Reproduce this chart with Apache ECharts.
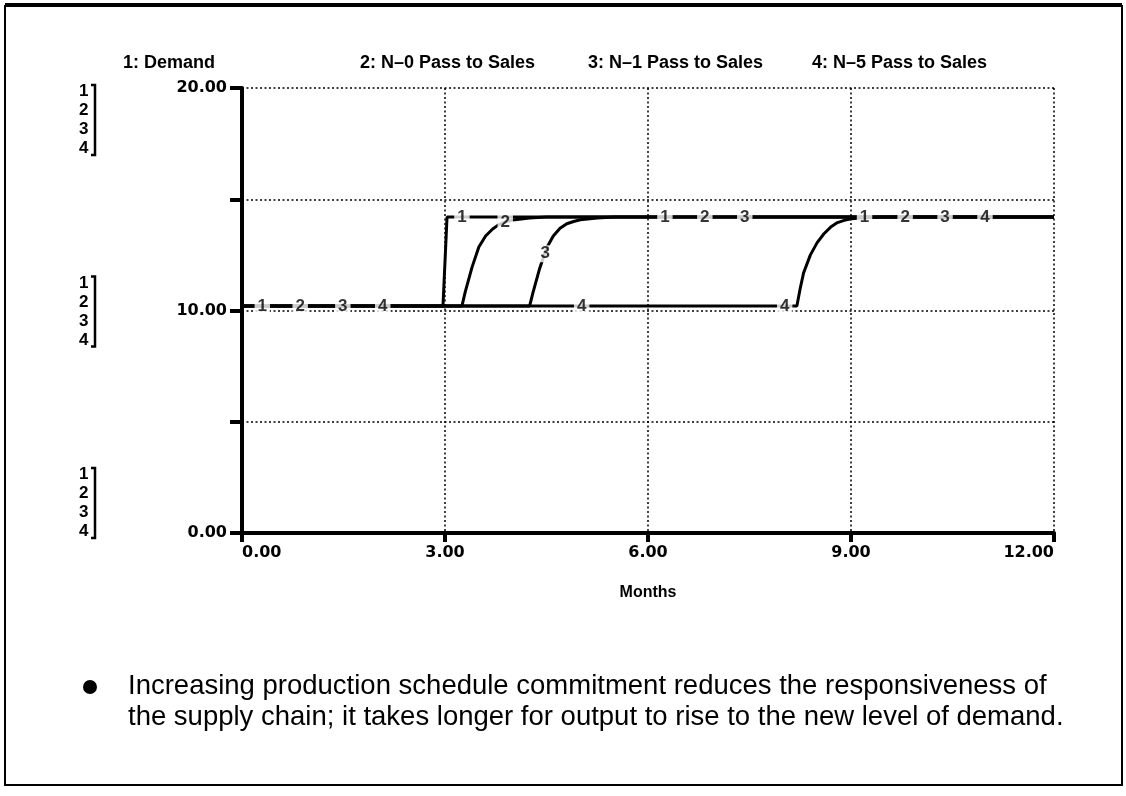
<!DOCTYPE html>
<html><head><meta charset="utf-8">
<script src="https://cdn.jsdelivr.net/npm/echarts@6/dist/echarts.min.js"></script>
<style>html,body{margin:0;padding:0;background:#fff}#c{width:1126px;height:796px}</style>
</head><body><div id="c"></div>
<script>
// ---- data ----
const seriesNames = ['1: Demand', '2: N\u20130 Pass to Sales', '3: N\u20131 Pass to Sales', '4: N\u20135 Pass to Sales'];
const seriesIds = ['1', '2', '3', '4'];
const xTickValues = [0, 3, 6, 9, 12];
const yLabelledTicks = [0, 10, 20];
const xAxisTitle = 'Months';
const noteText = ['Increasing production schedule commitment reduces the responsiveness of',
                  'the supply chain; it takes longer for output to rise to the new level of demand.'];

const demandT = [0, 2.97, 3.03, 12];
const demandV = [10.2, 10.2, 14.2, 14.2];
const n0T = [0, 3.25, 3.3, 3.4, 3.5, 3.6, 3.7, 3.8, 3.9, 4.0, 4.25, 4.5, 12];
const n0V = [10.2, 10.2, 10.85, 11.95, 12.85, 13.35, 13.65, 13.87, 13.99, 14.07, 14.16, 14.2, 14.2];
const n1T = [0, 4.25, 4.3, 4.4, 4.5, 4.6, 4.7, 4.8, 4.9, 5.0, 5.25, 5.5, 12];
const n1V = [10.2, 10.2, 10.8, 11.9, 12.8, 13.35, 13.7, 13.9, 14.0, 14.08, 14.16, 14.2, 14.2];
const n5T = [0, 8.2, 8.25, 8.3, 8.4, 8.5, 8.6, 8.7, 8.8, 8.9, 9.0, 9.25, 9.5, 12];
const n5V = [10.2, 10.2, 11.0, 11.7, 12.5, 13.05, 13.45, 13.75, 13.95, 14.05, 14.12, 14.18, 14.2, 14.2];

// where the curve-number labels sit on each line
const tagT = [[0.3, 3.25, 6.25, 9.2], [0.86, 3.89, 6.84, 9.8], [1.49, 4.48, 7.43, 10.39], [2.08, 5.02, 8.02, 10.98]];
const tagV = [[10.2, 14.2, 14.2, 14.2], [10.2, 13.98, 14.2, 14.2], [10.2, 12.55, 14.2, 14.2], [10.2, 10.2, 10.2, 14.2]];

// ---- chart ----
const zip = (a, b) => a.map((t, i) => [t, b[i]]);
const lines = [zip(demandT, demandV), zip(n0T, n0V), zip(n1T, n1V), zip(n5T, n5V)];

const chart = echarts.init(document.getElementById('c'), null, {renderer: 'canvas'});
const dotted = {color: '#000', width: 1.5, type: [2, 2.5]};

const series = [];
lines.forEach((d, i) => series.push({
  type: 'line', name: seriesNames[i], data: d, showSymbol: false, symbol: 'none',
  lineStyle: {color: '#000', width: 3}, z: 3, animation: false
}));
tagT.forEach((ts, i) => series.push({
  type: 'scatter', data: zip(ts, tagV[i]), symbolSize: 0, z: 5, silent: true,
  label: {show: true, position: 'inside', formatter: seriesIds[i], color: '#000',
          fontFamily: 'Liberation Sans', fontWeight: 'bold', fontSize: 17,
          backgroundColor: '#fff', padding: [0, 3, 0, 3]},
  animation: false
}));

chart.setOption({
  animation: false,
  backgroundColor: '#fff',
  grid: {left: 242, top: 88, width: 812, height: 445},
  xAxis: {
    type: 'value', min: 0, max: 12, interval: 3,
    name: xAxisTitle, nameLocation: 'middle', nameGap: 52,
    nameTextStyle: {color: '#000', fontFamily: 'Liberation Sans', fontWeight: 'bold', fontSize: 16},
    axisLine: {lineStyle: {color: '#000', width: 4}},
    axisTick: {length: 9, lineStyle: {color: '#000', width: 4}},
    axisLabel: {color: '#000', fontFamily: 'DejaVu Sans', fontWeight: 'bold', fontSize: 16, margin: 12,
                alignMinLabel: 'left', alignMaxLabel: 'right',
                formatter: v => v.toFixed(2)},
    splitLine: {show: true, lineStyle: dotted}
  },
  yAxis: {
    type: 'value', min: 0, max: 20, interval: 5,
    axisLine: {show: true, lineStyle: {color: '#000', width: 4}},
    axisTick: {show: true, length: 12, lineStyle: {color: '#000', width: 4}},
    axisLabel: {color: '#000', fontFamily: 'DejaVu Sans', fontWeight: 'bold', fontSize: 16, margin: 15,
                formatter: v => yLabelledTicks.includes(v) ? v.toFixed(2) : ''},
    splitLine: {show: true, lineStyle: dotted}
  },
  series: series
});

// ---- decorations: legend row, scale brackets, frame, note ----
const g = [];
const legendX = [123, 360, 588, 812];
seriesNames.forEach((n, i) => g.push({type: 'text', left: legendX[i], top: 54,
  style: {text: n, fill: '#000', font: 'bold 18px "Liberation Sans"'}}));

const lh = 19;
yLabelledTicks.forEach(v => {
  const py = chart.convertToPixel({yAxisIndex: 0}, v);
  let top;
  if (v === 20) top = py - 6;
  else if (v === 10) top = py - 2 * lh + 1;
  else top = py - 4 * lh + 8;
  g.push({type: 'text', left: 79, top: top,
    style: {text: seriesIds.join('\n'), fill: '#000', font: 'bold 17px "Liberation Sans"', lineHeight: lh}});
  const b = top + 4 * lh - 3;
  g.push({type: 'polyline', shape: {points: [[91, top + 3], [95, top + 3], [95, b], [91, b]]},
    style: {stroke: '#000', lineWidth: 2.5, fill: null}});
});

g.push({type: 'rect', shape: {x: 5, y: 6, width: 1117, height: 779}, style: {stroke: '#000', lineWidth: 2, fill: null}});
g.push({type: 'line', shape: {x1: 5, y1: 5, x2: 1122, y2: 5}, style: {stroke: '#000', lineWidth: 4}});
g.push({type: 'circle', shape: {cx: 90, cy: 687, r: 7}, style: {fill: '#000'}});
noteText.forEach((t, i) => g.push({type: 'text', left: 128, top: 672 + i * 31,
  style: {text: t, fill: '#000', font: '27.5px "Liberation Sans"'}}));

chart.setOption({graphic: g});
</script></body></html>
